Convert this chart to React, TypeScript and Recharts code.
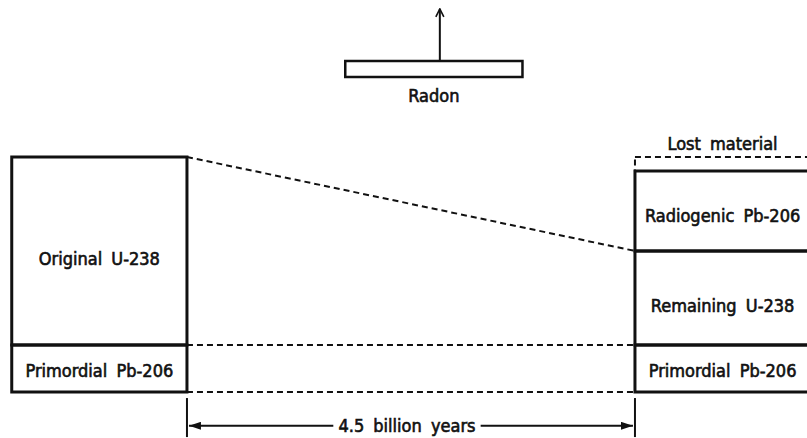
import { ComposedChart, Line, XAxis, YAxis, ReferenceArea, ReferenceLine, ReferenceDot } from 'recharts';

// time in billions of years, amounts in units of primordial Pb-206
const TIMES = [0, 4.5];
const PRIMORDIAL_PB = [1, 1];
const URANIUM = [4, 2]; // original, remaining
const RADIOGENIC_PB = [0, 1.7];
const LOST_MATERIAL = [0, 0.3];
const COLUMN_WIDTH = 1.76;

const RADON_SPAN = [1.59, 3.37];
const RADON_LEVEL = [6.7, 7.04];
const RADON_ARROW = [2.54, 8.15];

const SPAN_TICK = [-0.13, -0.96];
const SPAN_ARROW_Y = -0.72;
const SPAN_LABEL = '4.5 billion years';
const SPAN_GAP = [1.47, 2.95];

const X_DOMAIN = [-1.878, 6.228];
const Y_DOMAIN = [-0.98, 8.34];

const INK = '#111';

const uraniumTop = TIMES.map((t, i) => ({ t, v: PRIMORDIAL_PB[i] + URANIUM[i] }));
const primordialTop = TIMES.map((t, i) => ({ t, v: PRIMORDIAL_PB[i] }));
const baseLine = TIMES.map((t) => ({ t, v: 0 }));

const label = (value: string, position: any = 'center', offset = 0) => ({
  value,
  position,
  offset,
  fill: INK,
  stroke: INK,
  strokeWidth: 0.6,
  fontSize: 18,
});

const arrowShape = (start?: string, end?: string) => (p: any) => (
  <line
    x1={p.x1}
    y1={p.y1}
    x2={p.x2}
    y2={p.y2}
    stroke={INK}
    strokeWidth={2}
    markerStart={start}
    markerEnd={end}
  />
);

export default function App() {
  const [t0, t1] = TIMES;
  const leftX = t0 - COLUMN_WIDTH;
  const rightX = t1 + COLUMN_WIDTH;

  const pbR = PRIMORDIAL_PB[1];
  const uR = pbR + URANIUM[1];
  const radR = uR + RADIOGENIC_PB[1];
  const lostR = radR + LOST_MATERIAL[1];

  const box = { fill: 'none', stroke: INK, strokeWidth: 3, fillOpacity: 0, ifOverflow: 'visible' as const };

  return (
    <div
      style={{
        position: 'absolute',
        left: 0,
        top: 0,
        background: '#fff',
        fontFamily: '"DejaVu Sans Condensed", "Liberation Sans Narrow", sans-serif',
        wordSpacing: '4px',
      }}
    >
      <ComposedChart width={807} height={438} margin={{ top: 0, right: 0, bottom: 0, left: 0 }}>
        <defs>
          <marker id="chev" viewBox="0 0 10 10" refX="9" refY="5" markerWidth="10" markerHeight="10" markerUnits="userSpaceOnUse" orient="auto">
            <path d="M1 1 L9 5 L1 9" fill="none" stroke={INK} strokeWidth={1.6} />
          </marker>
          <marker id="tri" viewBox="0 0 12 8" refX="12" refY="4" markerWidth="12" markerHeight="8" markerUnits="userSpaceOnUse" orient="auto-start-reverse">
            <path d="M0 0 L12 4 L0 8 Z" fill={INK} />
          </marker>
        </defs>
        <XAxis type="number" dataKey="t" domain={X_DOMAIN} allowDataOverflow hide />
        <YAxis type="number" dataKey="v" domain={Y_DOMAIN} allowDataOverflow hide />

        {/* connecting dashed lines */}
        <Line data={uraniumTop} dataKey="v" stroke={INK} strokeWidth={2} strokeDasharray="6 4" dot={false} activeDot={false} isAnimationActive={false} />
        <Line data={primordialTop} dataKey="v" stroke={INK} strokeWidth={2} strokeDasharray="6 4" dot={false} activeDot={false} isAnimationActive={false} />
        <Line data={baseLine} dataKey="v" stroke={INK} strokeWidth={2} strokeDasharray="6 4" dot={false} activeDot={false} isAnimationActive={false} />

        {/* original sample */}
        <ReferenceArea x1={leftX} x2={t0} y1={0} y2={PRIMORDIAL_PB[0]} {...box} label={label('Primordial Pb-206', 'insideBottom', 15)} />
        <ReferenceArea x1={leftX} x2={t0} y1={PRIMORDIAL_PB[0]} y2={PRIMORDIAL_PB[0] + URANIUM[0]} {...box} label={label('Original U-238', 'insideBottom', 80)} />

        {/* sample today */}
        <ReferenceArea
          x1={t1}
          x2={rightX}
          y1={radR}
          y2={lostR}
          fill="none"
          fillOpacity={0}
          stroke={INK}
          strokeWidth={2}
          strokeDasharray="6 4"
          ifOverflow="visible"
          label={label('Lost material', 'top', 7)}
        />
        <ReferenceArea x1={t1} x2={rightX} y1={0} y2={pbR} {...box} label={label('Primordial Pb-206', 'insideBottom', 15)} />
        <ReferenceArea x1={t1} x2={rightX} y1={pbR} y2={uR} {...box} label={label('Remaining U-238', 'insideBottom', 33)} />
        <ReferenceArea x1={t1} x2={rightX} y1={uR} y2={radR} {...box} label={label('Radiogenic Pb-206', 'insideBottom', 29)} />

        {/* radon escaping */}
        <ReferenceArea
          x1={RADON_SPAN[0]}
          x2={RADON_SPAN[1]}
          y1={RADON_LEVEL[0]}
          y2={RADON_LEVEL[1]}
          fill="none"
          fillOpacity={0}
          stroke={INK}
          strokeWidth={2.5}
          ifOverflow="visible"
          label={label('Radon', 'bottom', 12)}
        />
        <ReferenceLine
          segment={[{ x: RADON_ARROW[0], y: RADON_LEVEL[1] }, { x: RADON_ARROW[0], y: RADON_ARROW[1] }]}
          ifOverflow="visible"
          shape={arrowShape(undefined, 'url(#chev)')}
        />

        {/* elapsed time */}
        <ReferenceLine segment={[{ x: t0, y: SPAN_TICK[0] }, { x: t0, y: SPAN_TICK[1] }]} stroke={INK} strokeWidth={2} ifOverflow="visible" />
        <ReferenceLine segment={[{ x: t1, y: SPAN_TICK[0] }, { x: t1, y: SPAN_TICK[1] }]} stroke={INK} strokeWidth={2} ifOverflow="visible" />
        <ReferenceLine
          segment={[{ x: t0 + 0.02, y: SPAN_ARROW_Y }, { x: SPAN_GAP[0], y: SPAN_ARROW_Y }]}
          ifOverflow="visible"
          shape={arrowShape('url(#tri)')}
        />
        <ReferenceLine
          segment={[{ x: SPAN_GAP[1], y: SPAN_ARROW_Y }, { x: t1 - 0.02, y: SPAN_ARROW_Y }]}
          ifOverflow="visible"
          shape={arrowShape(undefined, 'url(#tri)')}
        />
        <ReferenceDot
          x={(SPAN_GAP[0] + SPAN_GAP[1]) / 2}
          y={SPAN_ARROW_Y}
          r={0}
          stroke="none"
          fill="none"
          ifOverflow="visible"
          label={label(SPAN_LABEL)}
        />
      </ComposedChart>
    </div>
  );
}
